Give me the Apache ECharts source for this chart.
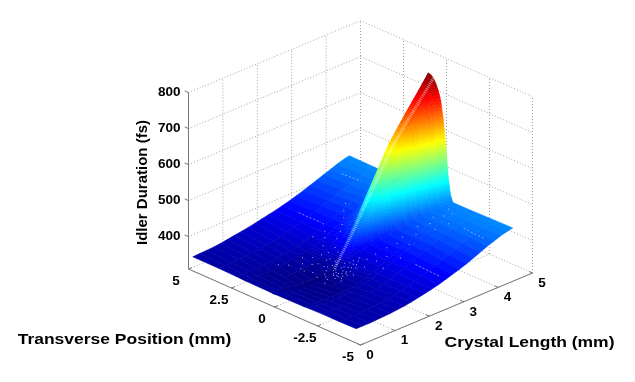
<!DOCTYPE html>
<html><head><meta charset="utf-8">
<style>html,body{margin:0;background:#fff}#c{width:635px;height:382px}</style>
<script src="https://cdn.jsdelivr.net/npm/echarts@6/dist/echarts.min.js"></script>
</head><body><div id="c"></div>
<script>
// ---- data ----
const lengthTicks=[0,1,2,3,4,5];
const transverseTicks=[5,2.5,0,-2.5,-5];
const transverseTickLabels=['5','2.5','0','-2.5','-5'];
const durationTicks=[400,500,600,700,800];
const crystalLength=[0,.2,.4,.6,.8,1,1.2,1.4,1.6,1.8,2,2.2,2.4,2.6,2.8,3,3.2,3.4,3.6,3.8,4,4.2,4.4,4.55];
const ridgeHalfWidth=[.2,.2,.2,.2,.2,.2,.2,.2,.2,.2,.29,.38,.47,.56,.65,.74,.83,.92,1,1.09,1.18,1.27,1.36,1.43];
const ridgeCentre=.15;
const frontColumns=[-4.75,-3.75,-2.75,-2,-1.7];
const ridgeFractions=[1,.9,.8,.7,.6,.5,.4,.3,.2,.1,0,-.25,-.6];
const rearColumns=[1.75,2.25,3.25,4.75];
const idlerDuration=[
[350,349,349,348,347, 346,346,346,346,346,346,346,346,346,346,346,346,346, 347,348,349,349],
[350,349,348,347,345, 344,344,344,343,343,343,343,343,343,343,343,343,344, 345,347,349,350],
[350,349,347,345,343, 340,340,340,340,339,339,339,339,339,339,339,340,340, 343,345,348,351],
[351,349,347,344,341, 337,337,337,337,336,336,336,336,336,336,336,337,337, 342,345,349,352],
[352,350,347,344,341, 334,334,334,334,333,333,333,333,333,333,333,334,335, 343,347,351,354],
[353,351,348,345,341, 333,333,333,333,332,332,332,332,332,332,332,333,334, 345,349,353,357],
[355,353,350,346,342, 333,333,333,333,332,332,332,332,332,332,332,333,334, 347,351,356,360],
[357,355,352,349,345, 335,335,334,334,334,333,333,333,333,333,333,334,336, 349,353,358,363],
[360,358,355,352,349, 338,338,337,337,337,336,336,336,336,336,336,337,339, 352,355,361,366],
[364,362,360,357,355, 345,344,344,343,343,343,342,342,342,342,342,343,345, 356,359,365,370],
[368,367,366,364,362, 362,363,364,368,370,372,373,374,375,375,375,371,365, 362,365,369,374],
[372,373,373,372,370, 370,372,377,387,395,400,403,406,407,408,408,397,380, 370,372,375,378],
[377,379,381,380,379, 379,382,391,407,420,429,434,438,440,442,442,423,395, 379,380,381,382],
[383,386,388,388,387, 387,392,408,433,452,465,471,473,477,479,479,451,410, 387,388,388,387],
[389,392,395,396,395, 395,401,414,444,468,487,498,508,512,514,515,479,425, 395,396,395,392],
[395,399,403,404,403, 403,410,435,475,504,525,536,542,547,550,551,507,440, 403,404,402,398],
[402,407,411,412,411, 411,420,440,485,520,548,563,576,583,586,587,534,455, 411,412,409,404],
[410,414,418,420,419, 419,429,462,516,557,586,602,611,618,622,623,562,470, 419,420,416,411],
[418,422,425,427,426, 426,437,465,522,567,602,621,638,645,650,651,584,482, 426,427,423,418],
[426,430,432,433,432, 432,444,483,548,597,633,651,663,672,677,678,604,494, 432,433,430,425],
[433,436,438,438,437, 437,450,484,552,606,647,669,688,697,703,704,624,504, 437,438,436,432],
[440,441,442,442,441, 441,455,500,576,633,675,697,712,722,728,729,643,513, 441,442,441,439],
[445,445,445,445,444, 444,460,499,579,641,689,715,736,747,753,755,662,522, 444,445,445,445],
[448,447,446,445,445, 445,462,512,599,665,713,738,755,767,773,775,676,528, 445,445,447,448]
];
// white specks where the mesh shows through: [length, transverse]
const meshGaps=[[1.7,-.3],[1.75,.1],[1.8,-.55],[1.85,-.15],[1.6,-.5],[1.9,.3],[1.95,-.8],[2,-.35],[1.55,.2],[1.7,.55],[2.05,-1.1],[1.5,-.85],[1.4,.6],[1.3,1.1],[1.2,1.6],[1.05,1.9],[1.45,1.3],[1.6,1.6],[1.75,1.3],[1.9,1.1],[2.1,1.4],[2.3,1.7],[2.45,2.0],[2.2,2.2],[2.6,2.4],[2.3,-1.3],[2.5,-1.5],[2.7,-1.1],[2.9,-1.3],[3.1,-1.2],[2.2,-1.9],[2.6,-2.1],[3,-1.8],[3.3,-1.6],[3.5,-1.3],[3.7,-1.6],[3.9,-1.4],[4.05,-1.7],[4.2,-1.9],[4.3,-1.5],[3.6,-2.1],[3.9,-2.3],[1.65,-.1],[1.72,-.75],[1.82,.3],[1.6,-.2],[1.5,.05],[1.9,-.45],[1.78,-1],[1.68,.85],[1.58,1],[1.42,-.2],[1.35,.25],[1.25,-.4],[1.3,.9],[1.85,.7],[2,.9],[2.15,.8],[2.35,1.1],[2.55,1.3],[2.75,1.6],[2.95,1.9],[3.1,2.2],[3.3,2.5],
[1.72,-.45],[1.8,-.35],[1.88,-.25],[1.95,-.15],[1.76,-.6],[1.84,-.7],[1.92,-.6],[2,-.55],[2.08,-.4],[1.66,-.62],[1.62,-.35],[1.7,-.15],[1.78,.02],[1.86,.12],[1.94,.08],[2.02,-.7],[2.12,-.6],[2.2,-.5],[1.58,-.7],[1.52,-.45],[1.64,.3],[1.74,.42],[1.9,.6],[2.08,.5],[2.25,-.85],[2.45,-.95]];
// faint dashes along the transverse direction: [length, from, to]
const meshDashes=[[2.6,-3,-4.4],[3.95,-3.1,-4.3],[2.6,3.8,2.5],[4,4.1,3]];
const axisNames={length:'Crystal Length (mm)',transverse:'Transverse Position (mm)',duration:'Idler Duration (fs)'};
// ---- view ----
const zFloor=310,zTop=800,colorMin=332,colorMax=775;
function project(l,t,z){return [360.5+34.4*l-17.2*(t+5),345-14.4*l-7.6*(t+5)-.36*(z-zFloor)];}
function jet(v){
  const c=x=>Math.max(0,Math.min(1,x));
  const r=c(Math.min(4*v-1.5,-4*v+4.5)),g=c(Math.min(4*v-.5,-4*v+3.5)),b=c(Math.min(4*v+.5,-4*v+2.5));
  return 'rgb('+Math.round(r*255)+','+Math.round(g*255)+','+Math.round(b*255)+')';
}
function colorOf(z){return jet((z-colorMin)/(colorMax-colorMin));}
const nFront=frontColumns.length,nRidge=ridgeFractions.length;
function columnT(i,j){
  if(j<nFront)return frontColumns[j];
  if(j<nFront+nRidge)return ridgeCentre-ridgeFractions[j-nFront]*ridgeHalfWidth[i];
  return rearColumns[j-nFront-nRidge];
}
const nCols=idlerDuration[0].length;
function rowZ(i,t){
  let j=0;while(j<nCols-2&&columnT(i,j+1)<t)j++;
  const a=columnT(i,j),b=columnT(i,j+1),f=(t-a)/(b-a);
  return idlerDuration[i][j]+(idlerDuration[i][j+1]-idlerDuration[i][j])*f;
}
function lookup(l,t){
  let i=0;while(i<crystalLength.length-2&&crystalLength[i+1]<l)i++;
  const f=(l-crystalLength[i])/(crystalLength[i+1]-crystalLength[i]);
  return rowZ(i,t)*(1-f)+rowZ(i+1,t)*f;
}
// ---- segments of the box ----
const solid=[],dotted=[];
lengthTicks.forEach(l=>{
  dotted.push([[l,5,zFloor],[l,5,zTop]]);
  dotted.push([[l,-5,zFloor],[l,5,zFloor]]);
  solid.push([[l,-5,zFloor],[l,-4.8,zFloor]]);
});
transverseTicks.forEach(t=>{
  dotted.push([[5,t,zFloor],[5,t,zTop]]);
  dotted.push([[0,t,zFloor],[5,t,zFloor]]);
  solid.push([[0,t,zFloor],[.1,t,zFloor]]);
});
durationTicks.forEach(z=>{
  dotted.push([[0,5,z],[5,5,z]]);
  dotted.push([[5,5,z],[5,-5,z]]);
  solid.push([[0,5,z],[0,5.22,z]]);
});
solid.push([[0,-5,zFloor],[5,-5,zFloor]],[[0,-5,zFloor],[0,5,zFloor]],[[0,5,zFloor],[0,5,zTop]]);
// ---- cells back to front ----
const cells=[];
for(let i=crystalLength.length-2;i>=0;i--)for(let j=nCols-2;j>=0;j--)cells.push([i,j]);
const mix=(a,b,f)=>a+(b-a)*f;
function renderCell(p,api){
  const i=api.value(0),j=api.value(1),Z=idlerDuration,kids=[];
  const z00=Z[i][j],z01=Z[i][j+1],z10=Z[i+1][j],z11=Z[i+1][j+1];
  const L0=crystalLength[i],L1=crystalLength[i+1];
  const t00=columnT(i,j),t01=columnT(i,j+1),t10=columnT(i+1,j),t11=columnT(i+1,j+1);
  const clampN=v=>Math.max(1,Math.min(8,Math.ceil(v/9)));
  const nT=clampN(Math.max(Math.abs(z01-z00),Math.abs(z11-z10))),nL=clampN(Math.max(Math.abs(z10-z00),Math.abs(z11-z01)));
  const pt=(u,v)=>{
    const t=mix(mix(t00,t01,v),mix(t10,t11,v),u),z=mix(mix(z00,z01,v),mix(z10,z11,v),u);
    return {p:api.coord(project(mix(L0,L1,u),t,z)),z};
  };
  for(let a=nL-1;a>=0;a--)for(let b=nT-1;b>=0;b--){
    const q=[pt(a/nL,b/nT),pt(a/nL,(b+1)/nT),pt((a+1)/nL,(b+1)/nT),pt((a+1)/nL,b/nT)];
    const col=colorOf((q[0].z+q[1].z+q[2].z+q[3].z)/4);
    kids.push({type:'polygon',shape:{points:q.map(d=>d.p)},style:{fill:col,stroke:col,lineWidth:.6}});
  }
  return {type:'group',children:kids};
}
function segRenderer(list,style){
  return (p,api)=>{
    const s=list[api.value(0)],a=api.coord(project(...s[0])),b=api.coord(project(...s[1]));
    return {type:'line',shape:{x1:a[0],y1:a[1],x2:b[0],y2:b[1]},style:style};
  };
}
const font='bold 13.5px "Liberation Sans",Arial,sans-serif',titleFont='bold 15px "Liberation Sans",Arial,sans-serif';
const labels=[];
durationTicks.forEach(z=>{const q=project(0,5,z);labels.push({x:q[0]-8,y:q[1],text:String(z),align:'right',font});});
transverseTicks.forEach((t,k)=>{const q=project(0,t,zFloor);labels.push({x:q[0]-12.5,y:q[1]+12,text:transverseTickLabels[k],align:'center',font});});
lengthTicks.forEach(l=>{const q=project(l,-5,zFloor);labels.push({x:q[0]+9.5,y:q[1]+10,text:String(l),align:'center',font});});
labels.push({x:124.5,y:340,text:axisNames.transverse,align:'center',font:titleFont,scaleX:1.165});
labels.push({x:529.5,y:343,text:axisNames.length,align:'center',font:titleFont,scaleX:1.165});
labels.push({x:143,y:182.5,text:axisNames.duration,align:'center',font:titleFont,rotation:Math.PI/2});
const ridgeColumn=nFront+8;
const ridgePts=crystalLength.map((l,i)=>[l,columnT(i,ridgeColumn),idlerDuration[i][ridgeColumn]]).filter(d=>d[0]>=1.8);
const gapPts=meshGaps.map(g=>project(g[0],g[1],lookup(g[0],g[1])));
const dashSegs=meshDashes.map(d=>[project(d[0],d[1],lookup(d[0],d[1])),project(d[0],d[2],lookup(d[0],d[2]))]);
const chart=echarts.init(document.getElementById('c'),null,{renderer:'canvas'});
const idx=a=>a.map((_,i)=>[i]);
chart.setOption({
  animation:false,backgroundColor:'#fff',
  grid:{left:0,right:0,top:0,bottom:0},
  xAxis:{type:'value',min:0,max:635,show:false},
  yAxis:{type:'value',min:0,max:382,inverse:true,show:false},
  series:[
    {type:'custom',coordinateSystem:'cartesian2d',silent:true,clip:false,z:1,data:idx(dotted),encode:{x:0,y:0},
     renderItem:segRenderer(dotted,{stroke:'#a4a4a4',lineWidth:1,lineDash:[1,2]})},
    {type:'custom',coordinateSystem:'cartesian2d',silent:true,clip:false,z:2,data:idx(solid),encode:{x:0,y:0},
     renderItem:segRenderer(solid,{stroke:'#777',lineWidth:1})},
    {type:'custom',coordinateSystem:'cartesian2d',silent:true,clip:false,z:3,data:cells,encode:{x:0,y:1},progressive:0,renderItem:renderCell},
    {type:'custom',coordinateSystem:'cartesian2d',silent:true,clip:false,z:4,data:[[0]],encode:{x:0,y:0},
     renderItem:(p,api)=>({type:'polyline',shape:{points:ridgePts.map(d=>api.coord(project(d[0],d[1],d[2])))},
       style:{stroke:'rgba(255,255,255,.5)',fill:null,lineWidth:3,lineDash:[1,1]}})},
    {type:'custom',coordinateSystem:'cartesian2d',silent:true,clip:false,z:5,data:idx(gapPts),encode:{x:0,y:0},
     renderItem:(p,api)=>{const q=api.coord(gapPts[api.value(0)]);return {type:'rect',shape:{x:q[0],y:q[1],width:1,height:1},style:{fill:'rgba(225,232,255,.75)'}};}},
    {type:'custom',coordinateSystem:'cartesian2d',silent:true,clip:false,z:5,data:idx(dashSegs),encode:{x:0,y:0},
     renderItem:(p,api)=>{const s=dashSegs[api.value(0)],a=api.coord(s[0]),b=api.coord(s[1]);
       return {type:'line',shape:{x1:a[0],y1:a[1],x2:b[0],y2:b[1]},style:{stroke:'rgba(225,232,255,.55)',lineWidth:1,lineDash:[2,2]}};}},
    {type:'custom',coordinateSystem:'cartesian2d',silent:true,clip:false,z:6,data:idx(labels),encode:{x:0,y:0},
     renderItem:(p,api)=>{const d=labels[api.value(0)],q=api.coord([d.x,d.y]);
       return {type:'text',x:q[0],y:q[1],rotation:d.rotation||0,scaleX:d.scaleX||1,style:{text:d.text,font:d.font,fill:'#000',align:d.align,verticalAlign:'middle'}};}}
  ]
});
</script></body></html>
